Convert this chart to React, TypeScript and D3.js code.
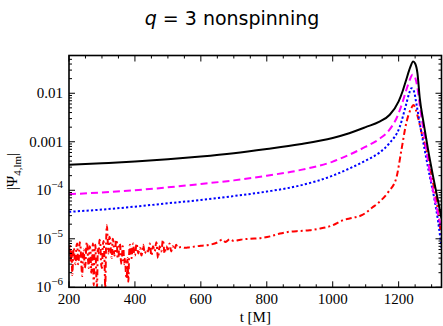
import React, { useRef, useEffect } from 'react';
import * as d3 from 'd3';

// |Psi4,lm| amplitudes, [t, value]
const blackSeries: [number, number][] = [
  [200, 3.35e-4], [300, 3.6e-4], [400, 3.9e-4], [500, 4.35e-4], [600, 4.95e-4],
  [700, 5.8e-4], [800, 7.1e-4], [900, 8.9e-4], [1000, 1.2e-3], [1050, 1.5e-3],
  [1100, 2.0e-3], [1142, 2.6e-3], [1173, 3.6e-3], [1200, 6.8e-3], [1212, 1.1e-2],
  [1223, 1.9e-2], [1235, 3.4e-2], [1244, 4.5e-2], [1250, 4.1e-2], [1257, 2.6e-2],
  [1264, 8.0e-3], [1275, 2.6e-3], [1289, 7.0e-4], [1304, 2.0e-4], [1319, 6.3e-5],
  [1330, 2.6e-5],
];

const magentaSeries: [number, number][] = [
  [200, 8.3e-5], [300, 9.0e-5], [400, 1.0e-4], [500, 1.15e-4], [600, 1.35e-4],
  [700, 1.6e-4], [800, 2.0e-4], [900, 2.6e-4], [1000, 3.9e-4], [1050, 5.4e-4],
  [1100, 7.9e-4], [1142, 1.15e-3], [1173, 1.8e-3], [1195, 3.2e-3], [1210, 6.0e-3],
  [1223, 1.15e-2], [1234, 1.9e-2], [1242, 2.4e-2], [1249, 2.2e-2], [1257, 1.3e-2],
  [1266, 4.5e-3], [1277, 1.5e-3], [1288, 4.5e-4], [1300, 1.4e-4], [1315, 4.5e-5],
  [1330, 1.6e-5],
];

const blueSeries: [number, number][] = [
  [200, 3.6e-5], [300, 4.0e-5], [400, 4.6e-5], [500, 5.4e-5], [600, 6.3e-5],
  [700, 7.6e-5], [800, 9.4e-5], [900, 1.25e-4], [1000, 2.0e-4], [1050, 2.8e-4],
  [1100, 4.1e-4], [1142, 6.0e-4], [1173, 9.5e-4], [1203, 2.0e-3], [1223, 6.0e-3],
  [1232, 1.0e-2], [1239, 1.27e-2], [1246, 1.12e-2], [1255, 5.5e-3], [1266, 2.0e-3],
  [1279, 6.8e-4], [1294, 2.0e-4], [1309, 6.3e-5], [1320, 2.2e-5], [1330, 6.5e-6],
];

const redSeries: [number, number][] = [
  [200, 5.0e-6], [202.5, 7.5e-6], [205, 3.2e-6], [207.5, 6.0e-6], [210, 1.8e-6],
  [212.5, 4.5e-6], [215, 6.5e-6], [217.5, 3.5e-6], [220, 3.0e-6], [222.5, 7.0e-6],
  [225, 8.0e-6], [227.5, 3.0e-6], [230, 4.0e-6], [232.5, 8.5e-6], [235, 7.0e-6],
  [237.5, 3.0e-6], [240, 1.7e-6], [242.5, 5.0e-6], [245, 6.0e-6], [247.5, 2.5e-6],
  [250, 3.0e-6], [252.5, 7.5e-6], [255, 8.5e-6], [257.5, 4.0e-6], [260, 2.5e-6],
  [262.5, 7.0e-6], [265, 6.0e-6], [267.5, 2.0e-6], [270, 3.5e-6], [272.5, 8.0e-6],
  [275, 1.1e-6], [277.5, 5.5e-6], [280, 7.5e-6], [282.5, 2.0e-6], [285, 1.0e-6],
  [287.5, 6.5e-6], [290, 5.0e-6], [292.5, 9.5e-6], [295, 8.0e-6], [297.5, 3.0e-6],
  [300, 2.5e-6], [302.5, 7.0e-6], [305, 9.0e-6], [307.5, 4.0e-6], [310, 1.0e-6],
  [312.5, 8.0e-6], [315, 1.9e-5], [317.5, 9.0e-6], [320, 5.0e-6], [322.5, 1.1e-5],
  [325, 9.5e-6], [327.5, 5.0e-6], [330, 4.0e-6], [332.5, 1.0e-5], [335, 8.5e-6],
  [337.5, 4.5e-6], [340, 5.0e-6], [342.5, 9.5e-6], [345, 9.0e-6], [347.5, 4.0e-6],
  [350, 4.0e-6], [352.5, 8.0e-6], [355, 7.5e-6], [357.5, 3.5e-6], [360, 3.0e-6],
  [362.5, 7.0e-6], [365, 6.5e-6], [367.5, 3.0e-6], [370, 4.0e-6], [372.5, 2.0e-6],
  [375, 1.5e-6], [377.5, 4.0e-6], [380, 1.3e-6], [382.5, 5.0e-6], [385, 7.5e-6],
  [387.5, 4.5e-6], [390, 4.0e-6], [392.5, 7.0e-6], [395, 8.0e-6], [397.5, 5.0e-6],
  [400, 4.5e-6], [405, 8.0e-6], [410, 5.0e-6], [415, 6.5e-6], [420, 4.5e-6],
  [425, 7.5e-6], [430, 5.0e-6], [435, 6.0e-6], [440, 5.5e-6], [445, 8.0e-6],
  [450, 4.5e-6], [455, 7.0e-6], [460, 5.5e-6], [465, 8.5e-6], [470, 4.0e-6],
  [475, 7.0e-6], [480, 5.5e-6], [485, 9.5e-6], [490, 5.0e-6], [495, 7.0e-6],
  [500, 6.0e-6], [505, 8.0e-6], [510, 5.5e-6], [515, 7.0e-6], [520, 6.0e-6],
  [525, 7.5e-6], [530, 6.5e-6], [540, 6.8e-6], [550, 6.5e-6], [560, 6.6e-6],
  [600, 7.2e-6], [630, 7.6e-6], [650, 8.4e-6], [665, 9.6e-6], [675, 8.6e-6],
  [688, 9.8e-6], [700, 9.0e-6], [720, 9.6e-6], [750, 1.0e-5], [780, 1.03e-5],
  [810, 1.12e-5], [840, 1.28e-5], [870, 1.4e-5], [900, 1.45e-5], [930, 1.5e-5],
  [960, 1.62e-5], [1000, 1.9e-5], [1030, 2.4e-5], [1060, 2.7e-5], [1090, 3.1e-5],
  [1120, 4.4e-5], [1142, 5.8e-5], [1170, 9.5e-5], [1193, 1.8e-4], [1208, 6.5e-4],
  [1223, 2.4e-3], [1238, 4.9e-3], [1245, 5.7e-3], [1258, 3.3e-3], [1270, 1.5e-3],
  [1284, 6.8e-4], [1300, 2.0e-4], [1319, 3.9e-5], [1330, 9.5e-6],
];

const xTicks = [200, 400, 600, 800, 1000, 1200];
const yTicks = [1e-2, 1e-3, 1e-4, 1e-5, 1e-6];
const yTickLabels = ['0.01', '0.001', '10|-4', '10|-5', '10|-6'];

const width = 443;
const height = 326;

function App() {
  const svgRef = useRef<SVGSVGElement>(null);

  useEffect(() => {
    const svg = d3.select(svgRef.current);
    svg.selectAll('*').remove();

    const left = 69, right = 441.5, top = 55.5, bottom = 287.3;
    const x = d3.scaleLinear().domain([200, 1330]).range([left, right]);
    const y = d3.scaleLog().domain([1e-6, 0.06]).range([bottom, top]);

    svg.append('defs').append('clipPath').attr('id', 'plot-clip')
      .append('rect')
      .attr('x', left).attr('y', top)
      .attr('width', right - left).attr('height', bottom - top);

    const line = d3.line<[number, number]>()
      .x(d => x(d[0]))
      .y(d => y(d[1]))
      .curve(d3.curveMonotoneX);

    const curves = svg.append('g').attr('clip-path', 'url(#plot-clip)');
    const styles = [
      { data: redSeries, color: '#ff0000', dash: '6,3,2,3' },
      { data: blueSeries, color: '#0000ff', dash: '2.2,2.2' },
      { data: magentaSeries, color: '#ff00ff', dash: '7,4' },
      { data: blackSeries, color: '#000000', dash: null },
    ];
    styles.forEach(s => {
      curves.append('path')
        .attr('d', line(s.data))
        .attr('fill', 'none')
        .attr('stroke', s.color)
        .attr('stroke-width', 2)
        .attr('stroke-dasharray', s.dash);
    });

    // frame
    svg.append('rect')
      .attr('x', left).attr('y', top)
      .attr('width', right - left).attr('height', bottom - top)
      .attr('fill', 'none').attr('stroke', '#000').attr('stroke-width', 1.6);

    const ticks = svg.append('g').attr('stroke', '#000').attr('stroke-width', 1);

    // x ticks, minor every 50
    d3.range(200, 1331, 50).forEach(t => {
      const len = t % 200 === 0 ? 6 : 3;
      const px = x(t);
      ticks.append('line').attr('x1', px).attr('x2', px).attr('y1', bottom).attr('y2', bottom - len);
      ticks.append('line').attr('x1', px).attr('x2', px).attr('y1', top).attr('y2', top + len);
    });

    // y ticks, log minor
    y.ticks().forEach(v => {
      const major = Math.abs(Math.log10(v) - Math.round(Math.log10(v))) < 1e-6;
      const len = major ? 6 : 3;
      const py = y(v);
      ticks.append('line').attr('x1', left).attr('x2', left + len).attr('y1', py).attr('y2', py);
      ticks.append('line').attr('x1', right).attr('x2', right - len).attr('y1', py).attr('y2', py);
    });

    const serif = "'Liberation Serif', 'Times New Roman', serif";

    // x tick labels
    svg.append('g').selectAll('text')
      .data(xTicks)
      .enter()
      .append('text')
      .attr('x', d => x(d))
      .attr('y', 304)
      .attr('text-anchor', 'middle')
      .attr('font-family', serif)
      .attr('font-size', 15)
      .text(d => d);

    // y tick labels
    yTicks.forEach((v, i) => {
      const lab = yTickLabels[i];
      const t = svg.append('text')
        .attr('x', 63)
        .attr('y', y(v) + 5)
        .attr('text-anchor', 'end')
        .attr('font-family', serif)
        .attr('font-size', 15);
      if (lab.includes('|')) {
        const [base, exp] = lab.split('|');
        t.append('tspan').text(base);
        t.append('tspan').attr('dy', -7).attr('font-size', 11).text('\u2212' + exp.replace('-', ''));
      } else {
        t.text(lab);
      }
    });

    // axis titles
    svg.append('text')
      .attr('x', (left + right) / 2)
      .attr('y', 322)
      .attr('text-anchor', 'middle')
      .attr('font-family', serif)
      .attr('font-size', 15)
      .text('t [M]');

    const yl = svg.append('text')
      .attr('transform', `translate(17, ${(top + bottom) / 2}) rotate(-90)`)
      .attr('text-anchor', 'middle')
      .attr('font-family', serif)
      .attr('font-size', 15);
    yl.append('tspan').text('|\u03A8');
    yl.append('tspan').attr('dy', 4).attr('font-size', 11).text('4,lm');
    yl.append('tspan').attr('dy', -4).text('|');

    // title
    const title = svg.append('text')
      .attr('x', 232)
      .attr('y', 25)
      .attr('text-anchor', 'middle')
      .attr('font-family', "'DejaVu Sans', sans-serif")
      .attr('font-size', 19);
    title.append('tspan').attr('font-style', 'italic').text('q');
    title.append('tspan').text(' = 3 nonspinning');
  }, []);

  return (
    <svg
      ref={svgRef}
      width={width}
      height={height}
      style={{ position: 'absolute', left: 0, top: 0, background: '#fff' }}
    />
  );
}

export default App;
